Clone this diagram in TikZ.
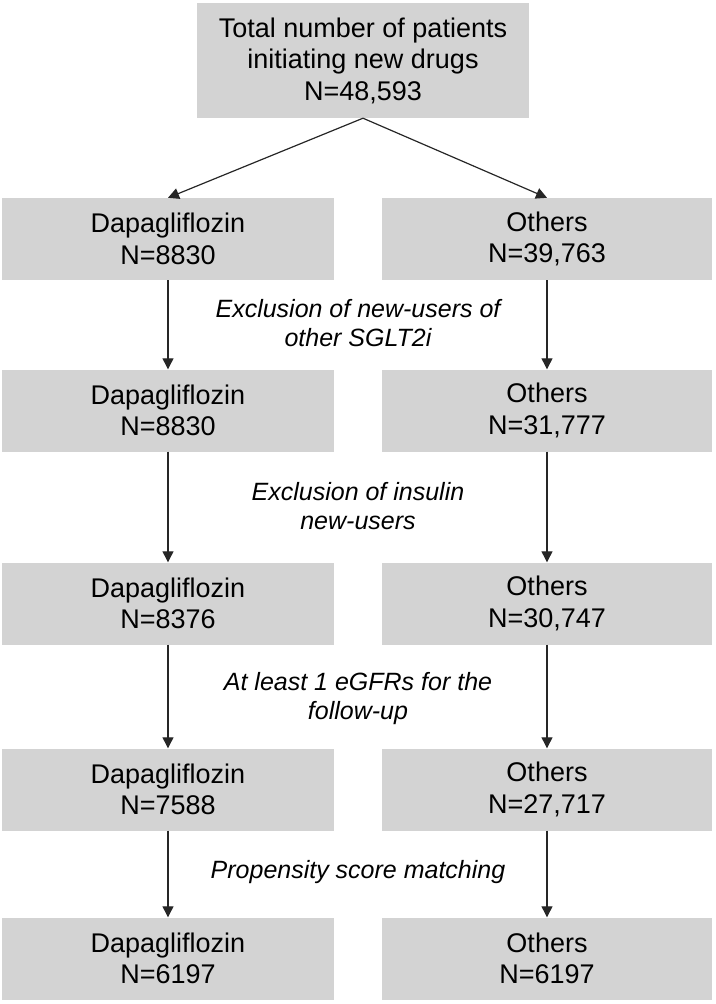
\documentclass[tikz,border=0pt]{standalone}
\usepackage{fontspec}
\setmainfont{Liberation Sans}
\usetikzlibrary{arrows.meta}
\definecolor{boxgray}{RGB}{211,211,211}
\begin{document}
\begin{tikzpicture}[x=1pt,y=-1pt,
  boxnode/.style={fill=boxgray,draw=none,inner sep=0pt,align=center,
    minimum height=82pt,font=\fontsize{27}{31.5}\selectfont},
  leftbox/.style={boxnode,minimum width=332pt},
  rightbox/.style={boxnode,minimum width=330pt},
  steplabel/.style={align=center,inner sep=0pt,font=\fontsize{25}{29}\selectfont\itshape},
  conn/.style={line width=1.2pt,draw=black!85,-{Triangle[length=11pt,width=11pt]}}]
\useasboundingbox (0,0) rectangle (715,1004);
\node[boxnode,minimum width=332pt,minimum height=115pt] (top) at (363,60.5)
  {Total number of patients\\initiating new drugs\\N=48,593};
\node[leftbox]  (l1) at (168,239) {Dapagliflozin\\N=8830};
\node[rightbox] (r1) at (547,239) {Others\\N=39,763};
\node[leftbox]  (l2) at (168,410.5) {Dapagliflozin\\N=8830};
\node[rightbox] (r2) at (547,410.5) {Others\\N=31,777};
\node[leftbox]  (l3) at (168,603.5) {Dapagliflozin\\N=8376};
\node[rightbox] (r3) at (547,603.5) {Others\\N=30,747};
\node[leftbox]  (l4) at (168,789.5) {Dapagliflozin\\N=7588};
\node[rightbox] (r4) at (547,789.5) {Others\\N=27,717};
\node[leftbox]  (l5) at (168,958.5) {Dapagliflozin\\N=6197};
\node[rightbox] (r5) at (547,958.5) {Others\\N=6197};
\node[steplabel] (e1) at (358,323) {Exclusion of new-users of\\other SGLT2i};
\node[steplabel] (e2) at (358,506) {Exclusion of insulin\\new-users};
\node[steplabel] (e3) at (358,699) {At least 1 eGFRs for the\\follow-up};
\node[steplabel] (e4) at (358,872) {Propensity score matching};
\draw[conn] (top.south) -- (l1.north);
\draw[conn] (top.south) -- (r1.north);
\draw[conn] (l1) -- (l2);
\draw[conn] (r1) -- (r2);
\draw[conn] (l2) -- (l3);
\draw[conn] (r2) -- (r3);
\draw[conn] (l3) -- (l4);
\draw[conn] (r3) -- (r4);
\draw[conn] (l4) -- (l5);
\draw[conn] (r4) -- (r5);
\end{tikzpicture}
\end{document}
